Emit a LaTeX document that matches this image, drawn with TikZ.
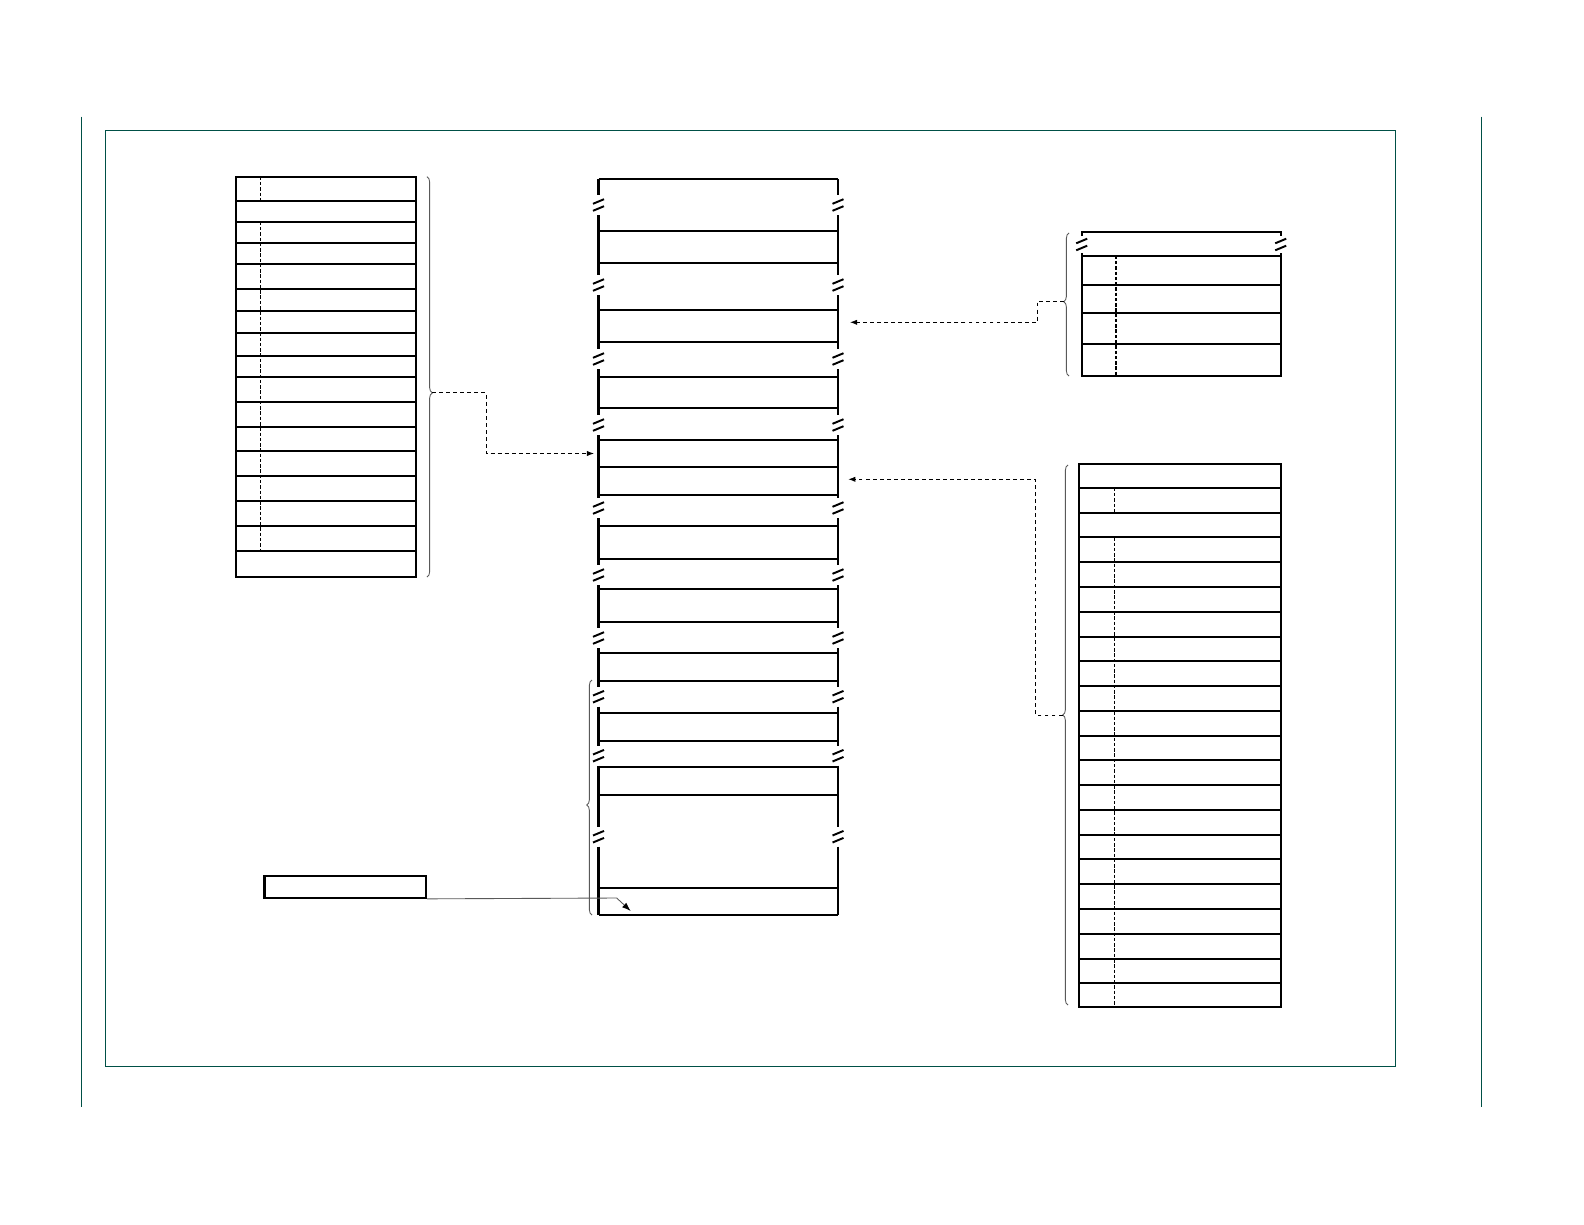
\documentclass[tikz,border=0pt]{standalone}
\usetikzlibrary{decorations.pathreplacing,arrows.meta}
\definecolor{framegreen}{RGB}{0,80,70}

\tikzset{
  frame/.style={framegreen, line width=0.5pt},
  tbl/.style={line width=1.3pt},
  row/.style={line width=1.1pt},
  divider/.style={line width=0.7pt, dash pattern=on 2pt off 1pt},
  grp/.style={black!65, line width=0.5pt, decorate, decoration={brace, amplitude=3pt, aspect=#1}},
  link/.style={line width=0.5pt, dash pattern=on 2.2pt off 1.8pt, -{Latex[length=4pt,width=3pt]}},
  ptr/.style={black!65, line width=0.5pt, -{Latex[length=5pt,width=3.5pt,color=black]}},
  brkmark/.pic={\draw[line width=1.1pt] (-5.5,-1.2) -- (5.5,-5.8) (-5.5,5.8) -- (5.5,1.2);}
}

\begin{document}
\begin{tikzpicture}[x=0.02cm, y=-0.02cm]
    \useasboundingbox (0,0) rectangle (1584,1224);
    \draw[frame] (105.3,130.7) rectangle (1395,1066);
    \draw[frame] (81.3,116.7) -- (81.3,1106.5);
    \draw[frame] (1481.7,116.7) -- (1481.7,1106.5);

    % left table
    \foreach \y in {200.7,221.7,242.7,264,288.7,311,333,356,377.3,401.7,426.7,450.7,475.7,501,525.7,550.7}
      \draw[row] (235.7,\y) -- (415.7,\y);
    \draw[divider] (260.7,176.7) -- (260.7,200.7);
    \draw[divider] (260.7,221.7) -- (260.7,550.7);
    \draw[tbl] (235.7,176.7) rectangle (415.7,576.7);
    \draw[grp=0.54] (427,176.7) -- (427,577);
    \coordinate (ltip) at (432,392.7);

    % centre column
    \draw[tbl] (598.5,179) -- (838,179) (598.5,915) -- (838,915);
    \foreach \y in {230.7,262.7,310,341.7,376.7,408,440,466.7,495,526,559,589,622,653,680.7,712.7,740.7,767.3,795,888}
      \draw[row] (598.5,\y) -- (838,\y);
    \foreach \a/\b in {179/195,215/275,295/349,369/415,435/498,518/565,585/628,648/686.7,706.7/745.7,765.7/826.7,846.7/915}
      \draw[tbl] (598.5,\a) -- (598.5,\b) (838,\a) -- (838,\b);
    \foreach \y in {205,285,359,425,508,575,638,696.7,755.7,836.7}
      \pic at (598.5,\y) {brkmark} pic at (838,\y) {brkmark};
    \draw[grp=0.468] (592,915) -- (592,680);
    \coordinate (cin) at (594,453.5);
    \coordinate (cout1) at (850,322.3);
    \coordinate (cout2) at (848.3,479.3);

    % upper right table
    \draw[tbl] (1081.7,236) -- (1081.7,232.3) -- (1280.7,232.3) -- (1280.7,236);
    \pic at (1081.7,244.5) {brkmark};
    \pic at (1280.7,244.5) {brkmark};
    \draw[tbl] (1081.7,253) -- (1081.7,376) -- (1280.7,376) -- (1280.7,253);
    \foreach \y in {255.7,284.7,313.3,344}
      \draw[row] (1081.7,\y) -- (1280.7,\y);
    \draw[divider] (1116,255.7) -- (1116,376);
    \draw[grp=0.52] (1069,376) -- (1069,233);
    \coordinate (rtip) at (1064,301.5);

    % lower right table
    \foreach \y in {487.7,512.7,537.3,561.7,586.7,611.7,636.7,661,685.7,710.7,735.7,760,785,810,835,859,884,909,934,959,983.3}
      \draw[row] (1079,\y) -- (1280.7,\y);
    \draw[divider] (1114.3,487.7) -- (1114.3,512.7);
    \draw[divider] (1114.3,537.3) -- (1114.3,1007.3);
    \draw[tbl] (1079,464) rectangle (1280.7,1007.3);
    \draw[grp=0.537] (1068,1005) -- (1068,465);
    \coordinate (rbtip) at (1062.5,715);

    % key box
    \node[draw, tbl, minimum width=3.234cm, minimum height=0.44cm, inner sep=0pt] (keybox) at (345.2,886.7) {};
    \coordinate (kink) at (616.7,898);
    \coordinate (slot) at (630.7,911);

    \draw[link] (ltip) -- ++(54,0) |- (cin);
    \draw[link] (rtip) -- ++(-27,0) |- (cout1);
    \draw[link] (rbtip) -- ++(-27,0) |- (cout2);
    \draw[ptr] (keybox.south east) -- (kink) -- (slot);
\end{tikzpicture}
\end{document}
